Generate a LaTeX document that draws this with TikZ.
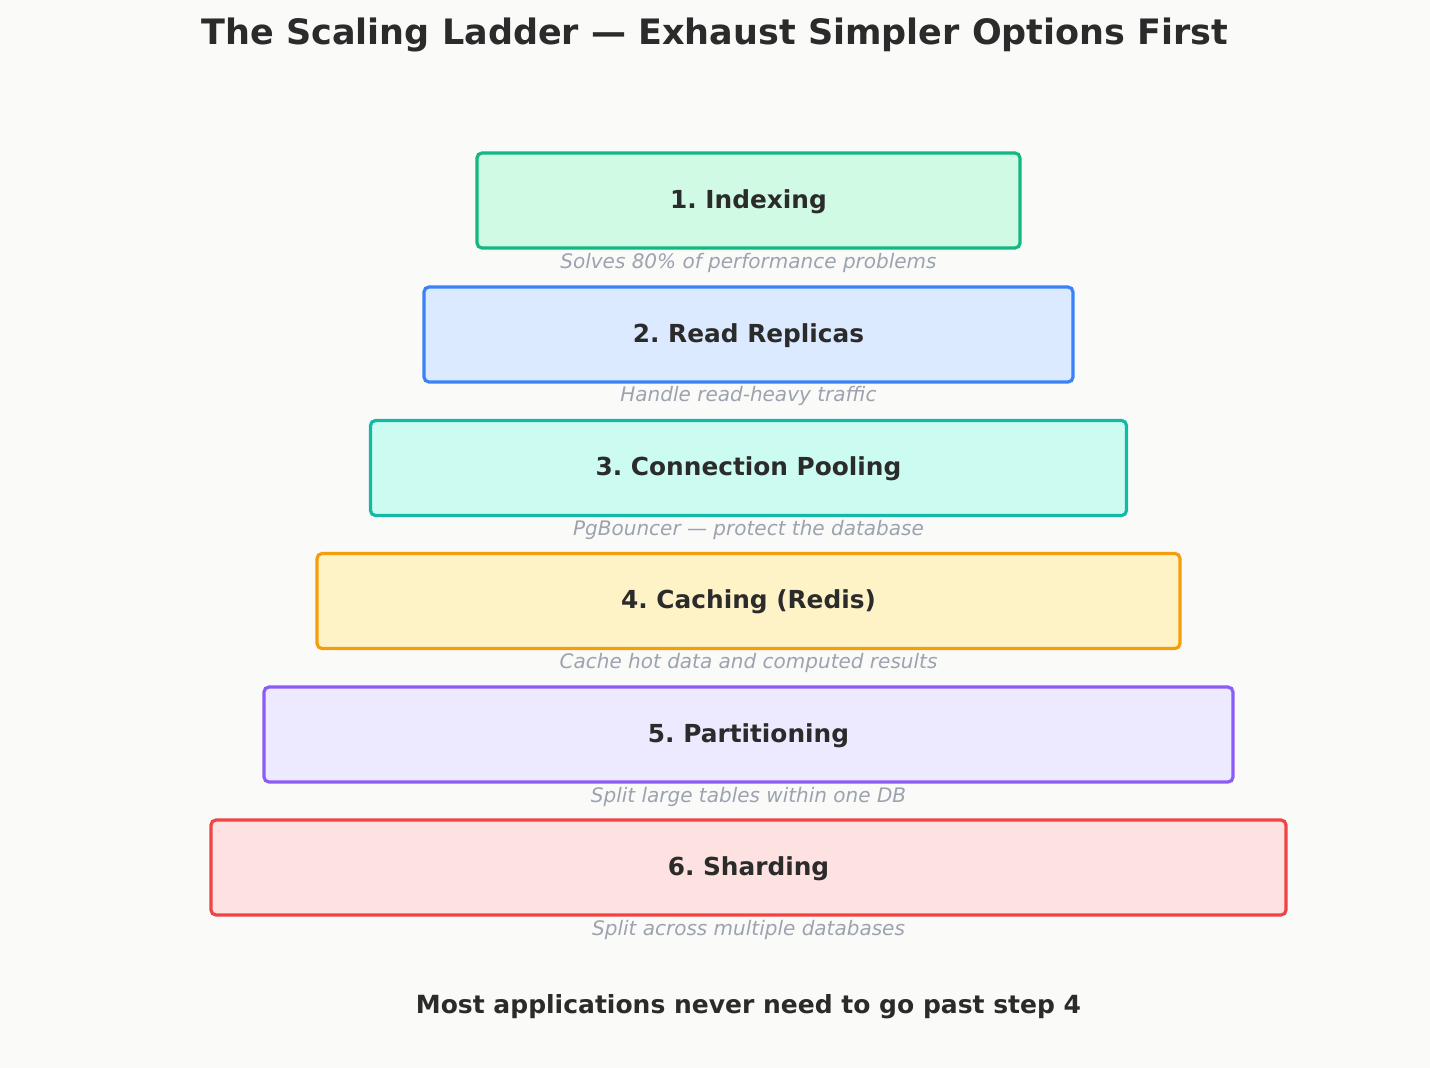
\documentclass[tikz,border=0pt]{standalone}
\usepackage{fontspec}
\setmainfont{DejaVu Sans}
\frenchspacing
\definecolor{bg}{HTML}{FAFAF8}
\definecolor{ink}{HTML}{2B2B2B}
\definecolor{sub}{HTML}{9CA3AF}
\definecolor{gB}{HTML}{10B981}\definecolor{gF}{HTML}{D1FAE5}
\definecolor{bB}{HTML}{3B82F6}\definecolor{bF}{HTML}{DBEAFE}
\definecolor{tB}{HTML}{14B8A6}\definecolor{tF}{HTML}{CCFBF1}
\definecolor{aB}{HTML}{F59E0B}\definecolor{aF}{HTML}{FEF3C7}
\definecolor{pB}{HTML}{8B5CF6}\definecolor{pF}{HTML}{EDE9FE}
\definecolor{rB}{HTML}{EF4444}\definecolor{rF}{HTML}{FEE2E2}
\begin{document}
\begin{tikzpicture}[x=1pt,y=-1pt,
  rung/.style={line width=3.2pt, rounded corners=5pt, minimum height=95pt, inner sep=0pt, text height=19pt, text depth=3.4pt, text=ink, font=\fontsize{24.8}{28}\selectfont\bfseries},
  note/.style={text=sub, font=\fontsize{20}{23}\selectfont\itshape, inner sep=0pt},
  ttl/.style={text=ink, font=\fontsize{35}{40}\selectfont\bfseries, inner sep=0pt},
  foot/.style={text=ink, font=\fontsize{25}{30}\selectfont\bfseries, inner sep=0pt}]
\fill[bg] (0,0) rectangle (1430,1068);
\useasboundingbox (0,0) rectangle (1430,1068);
\node[ttl] (title) at (715,35) {The Scaling Ladder — Exhaust Simpler Options First};
\node[rung, fill=gF, draw=gB, minimum width=543pt] (r1) at (748.5,200.5) {1. Indexing};
\node[note] (n1) at (748.5,263) {Solves 80\% of performance problems};
\node[rung, fill=bF, draw=bB, minimum width=649pt] (r2) at (748.5,334.5) {2. Read Replicas};
\node[note] (n2) at (748.5,396) {Handle read-heavy traffic};
\node[rung, fill=tF, draw=tB, minimum width=756pt] (r3) at (748.5,468) {3. Connection Pooling};
\node[note] (n3) at (748.5,530) {PgBouncer — protect the database};
\node[rung, fill=aF, draw=aB, minimum width=863pt] (r4) at (748.5,601) {4. Caching (Redis)};
\node[note] (n4) at (748.5,663) {Cache hot data and computed results};
\node[rung, fill=pF, draw=pB, minimum width=969pt] (r5) at (748.5,734.5) {5. Partitioning};
\node[note] (n5) at (748.5,797) {Split large tables within one DB};
\node[rung, fill=rF, draw=rB, minimum width=1075pt] (r6) at (748.5,867.5) {6. Sharding};
\node[note] (n6) at (748.5,930) {Split across multiple databases};
\node[foot] (foot) at (748.5,1007) {Most applications never need to go past step 4};
\end{tikzpicture}
\end{document}
